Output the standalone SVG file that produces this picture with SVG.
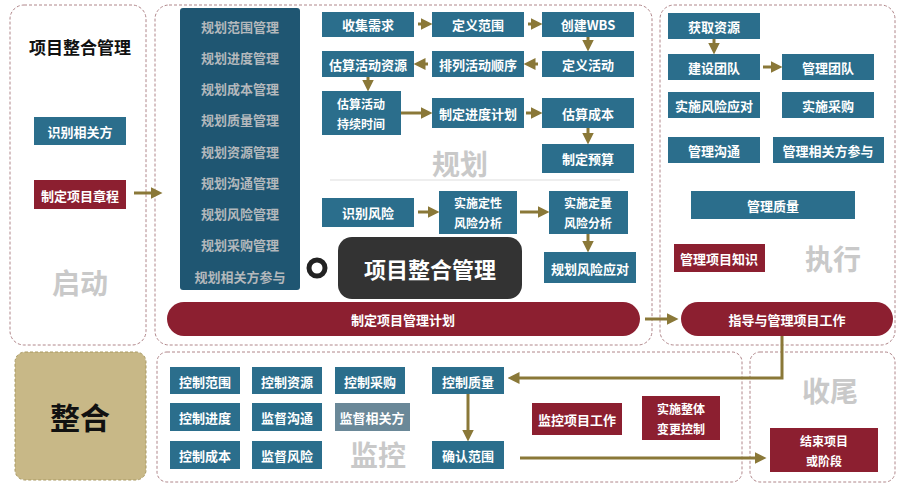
<svg xmlns="http://www.w3.org/2000/svg" width="909" height="491" viewBox="0 0 909 491">
<style>
text{font-family:"Noto Sans CJK SC","Liberation Sans",sans-serif;font-weight:bold;text-anchor:middle;dominant-baseline:central}
.panel{fill:#fff;stroke:#b0868a;stroke-width:1;stroke-dasharray:3 2}
.b{fill:#2b6e8c}
.r{fill:#8c1f30}
.w{fill:#fff;font-size:13px}
.t{fill:#fff;font-size:12px}
.g{fill:#c9c9c9;font-size:28px}
.c{fill:#b3b8bc;font-size:13px}
.a{stroke:#8a7838;stroke-width:3;fill:none;marker-end:url(#h)}
</style>
<defs><marker id="h" markerWidth="4" markerHeight="4" refX="2.5" refY="2" orient="auto"><path d="M0,0L4,2L0,4z" fill="#8a7838"/></marker></defs>
<rect width="909" height="491" fill="#fff"/>
<g id="panels">
<rect class="panel" x="10" y="5" width="136" height="340" rx="14"/>
<rect class="panel" x="155" y="5" width="497" height="340" rx="14"/>
<rect class="panel" x="660" y="5" width="235" height="340" rx="14"/>
<rect class="panel" x="157" y="352" width="585" height="130" rx="10"/>
<rect class="panel" x="750" y="352" width="145" height="130" rx="10"/>
</g>
<g id="start">
<text x="80" y="46" font-size="17" fill="#111">项目整合管理</text>
<rect class="b" x="34" y="117" width="92" height="28"/><text class="w" x="80" y="131">识别相关方</text>
<rect class="r" x="34" y="180" width="92" height="29"/><text class="w" x="80" y="195">制定项目章程</text>
<text class="g" x="80" y="282">启动</text>
</g>
<g id="integration">
<rect x="15" y="352" width="131" height="128" rx="10" fill="#c8b887" stroke="#a89860" stroke-dasharray="3 2"/>
<text x="80" y="416" font-size="30" fill="#111">整合</text>
</g>
<g id="plan-list">
<rect x="180" y="8" width="120" height="282" rx="3" fill="#1f5672"/>
<text class="c" x="240" y="26">规划范围管理</text>
<text class="c" x="240" y="57">规划进度管理</text>
<text class="c" x="240" y="88">规划成本管理</text>
<text class="c" x="240" y="119">规划质量管理</text>
<text class="c" x="240" y="151">规划资源管理</text>
<text class="c" x="240" y="182">规划沟通管理</text>
<text class="c" x="240" y="213">规划风险管理</text>
<text class="c" x="240" y="244">规划采购管理</text>
<text class="c" x="240" y="276">规划相关方参与</text>
</g>
<g id="plan-nodes">
<rect class="b" x="322" y="12" width="92" height="25"/><text class="w" x="368" y="24">收集需求</text>
<rect class="b" x="432" y="12" width="92" height="25"/><text class="w" x="478" y="24">定义范围</text>
<rect class="b" x="542" y="12" width="92" height="25"/><text class="w" x="588" y="24">创建WBS</text>
<rect class="b" x="322" y="51" width="92" height="26"/><text class="w" x="368" y="64">估算活动资源</text>
<rect class="b" x="432" y="51" width="92" height="26"/><text class="w" x="478" y="64">排列活动顺序</text>
<rect class="b" x="542" y="51" width="92" height="26"/><text class="w" x="588" y="64">定义活动</text>
<rect class="b" x="322" y="91" width="79" height="44"/><text class="t" x="361" y="103">估算活动</text><text class="t" x="361" y="123">持续时间</text>
<rect class="b" x="432" y="98" width="92" height="30"/><text class="w" x="478" y="113">制定进度计划</text>
<rect class="b" x="542" y="98" width="92" height="30"/><text class="w" x="588" y="113">估算成本</text>
<rect class="b" x="542" y="144" width="92" height="29"/><text class="w" x="588" y="158">制定预算</text>
<text class="g" x="460" y="163">规划</text>
<line x1="330" y1="180" x2="620" y2="180" stroke="#ddd"/>
<rect class="b" x="322" y="198" width="92" height="29"/><text class="w" x="368" y="212">识别风险</text>
<rect class="b" x="439" y="191" width="78" height="43"/><text class="t" x="478" y="202">实施定性</text><text class="t" x="478" y="222">风险分析</text>
<rect class="b" x="549" y="191" width="79" height="43"/><text class="t" x="588" y="202">实施定量</text><text class="t" x="588" y="222">风险分析</text>
<rect class="b" x="544" y="252" width="92" height="31"/><text class="w" x="590" y="268">规划风险应对</text>
</g>
<g id="overlay">
<circle cx="317" cy="268" r="8" fill="#fff" stroke="#222" stroke-width="5"/>
<rect x="338" y="237" width="184" height="62" rx="14" fill="#333"/>
<text x="430" y="268" font-size="22" fill="#fff">项目整合管理</text>
</g>
<g id="pills">
<rect class="r" x="167" y="302" width="473" height="34" rx="17"/><text class="w" x="403" y="319" font-size="15">制定项目管理计划</text>
<rect class="r" x="681" y="302" width="212" height="34" rx="17"/><text class="w" x="787" y="319" font-size="15">指导与管理项目工作</text>
</g>
<g id="exec">
<rect class="b" x="668" y="13" width="92" height="26"/><text class="w" x="714" y="26">获取资源</text>
<rect class="b" x="668" y="54" width="92" height="26"/><text class="w" x="714" y="67">建设团队</text>
<rect class="b" x="782" y="54" width="92" height="26"/><text class="w" x="828" y="67">管理团队</text>
<rect class="b" x="668" y="92" width="92" height="26"/><text class="w" x="714" y="105">实施风险应对</text>
<rect class="b" x="782" y="92" width="92" height="26"/><text class="w" x="828" y="105">实施采购</text>
<rect class="b" x="668" y="137" width="92" height="26"/><text class="w" x="714" y="150">管理沟通</text>
<rect class="b" x="773" y="137" width="111" height="26"/><text class="w" x="828" y="150">管理相关方参与</text>
<rect class="b" x="691" y="191" width="164" height="28"/><text class="w" x="773" y="205">管理质量</text>
<rect class="r" x="674" y="244" width="91" height="28"/><text class="w" x="719" y="258" font-size="12">管理项目知识</text>
<text class="g" x="833" y="258">执行</text>
</g>
<g id="monitor">
<rect class="b" x="170" y="367" width="70" height="27"/><text class="w" x="205" y="381">控制范围</text>
<rect class="b" x="252" y="367" width="70" height="27"/><text class="w" x="287" y="381">控制资源</text>
<rect class="b" x="335" y="367" width="70" height="27"/><text class="w" x="370" y="381">控制采购</text>
<rect class="b" x="170" y="403" width="70" height="28"/><text class="w" x="205" y="417">控制进度</text>
<rect class="b" x="252" y="403" width="70" height="28"/><text class="w" x="287" y="417">监督沟通</text>
<rect x="335" y="403" width="75" height="28" fill="#6a8898"/><text class="w" x="372" y="417">监督相关方</text>
<rect class="b" x="170" y="441" width="70" height="28"/><text class="w" x="205" y="455">控制成本</text>
<rect class="b" x="252" y="441" width="70" height="28"/><text class="w" x="287" y="455">监督风险</text>
<text class="g" x="378" y="454">监控</text>
<rect class="b" x="432" y="367" width="72" height="27"/><text class="w" x="468" y="381">控制质量</text>
<rect class="b" x="432" y="441" width="72" height="28"/><text class="w" x="468" y="455">确认范围</text>
<rect class="r" x="532" y="403" width="90" height="32"/><text class="w" x="577" y="419">监控项目工作</text>
<rect class="r" x="642" y="396" width="78" height="44"/><text class="t" x="681" y="408">实施整体</text><text class="t" x="681" y="428">变更控制</text>
</g>
<g id="close">
<text class="g" x="830" y="390">收尾</text>
<rect class="r" x="770" y="428" width="108" height="44"/><text class="t" x="824" y="440">结束项目</text><text class="t" x="824" y="460">或阶段</text>
</g>
<g id="connectors">
<path class="a" d="M134,193H158"/>
<path class="a" d="M418,24H428"/><path class="a" d="M528,24H538"/><path class="a" d="M588,37V47"/>
<path class="a" d="M538,64H528"/><path class="a" d="M428,64H418"/><path class="a" d="M368,77V87"/>
<path class="a" d="M401,113H428"/><path class="a" d="M526,113H538"/><path class="a" d="M588,128V140"/>
<path class="a" d="M418,212H435"/><path class="a" d="M520,212H545"/><path class="a" d="M588,234V248"/>
<path class="a" d="M645,319H674"/>
<path class="a" d="M714,39V50"/><path class="a" d="M763,67H778"/>
<path class="a" d="M782,336V378H512"/>
<path class="a" d="M468,394V437"/>
<path class="a" d="M520,458H762"/>
</g>
</svg>
